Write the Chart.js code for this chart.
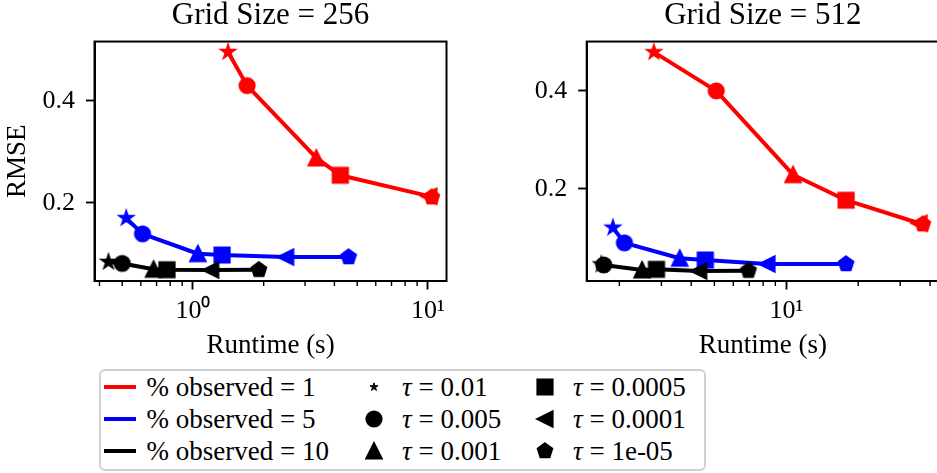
<!DOCTYPE html>
<html>
<head>
<meta charset="utf-8">
<script src="https://cdn.jsdelivr.net/npm/chart.js@4.4.1/dist/chart.umd.min.js"></script>
<style>
  html, body { margin:0; padding:0; background:#fff; }
  body { width:937px; height:473px; overflow:hidden; position:relative; font-family:'Liberation Serif', serif; }
  canvas { position:absolute; top:0; }
  .lg-text { position:absolute; font-size:27px; line-height:27px; color:#000; white-space:nowrap; font-family:'Liberation Serif', serif; }
  .lg-line { position:absolute; width:32px; height:4px; }
  .lg-mark { position:absolute; width:28px; height:28px; }
  #legendBox { position:absolute; left:99px; top:369px; width:607px; height:102px; border:2px solid #d0d0d0; border-radius:6px; box-sizing:border-box; background:#fff; }
</style>
</head>
<body>
<canvas id="chart256" width="470" height="370" style="left:0px;width:470px;height:370px"></canvas>
<canvas id="chart512" width="490" height="370" style="left:470px;width:490px;height:370px"></canvas>
<div id="legendBox"></div>
<div id="legendItems"></div>
<script>
// ---------------- data ----------------
const tauValues = ['0.01', '0.005', '0.001', '0.0005', '0.0001', '1e-05'];
const markerShapes = ['star', 'circle', 'triangle', 'square', 'leftTriangle', 'pentagon'];
const observedPct = [1, 5, 10];
const seriesColors = ['#ff0000', '#0000ff', '#000000'];
const gridSizes = [256, 512];
const xTickValues256 = [1, 10];
const xTickValues512 = [10];
const yTickValues = [0.2, 0.4];

// Grid size 256
const runtime256_obs1  = [1.41, 1.70, 3.35, 4.24, 10.1, 10.4];
const rmse256_obs1     = [0.496, 0.430, 0.288, 0.254, 0.213, 0.211];
const runtime256_obs5  = [0.52, 0.61, 1.05, 1.33, 2.48, 4.60];
const rmse256_obs5     = [0.170, 0.139, 0.100, 0.0975, 0.0935, 0.0935];
const runtime256_obs10 = [0.437, 0.50, 0.68, 0.775, 1.19, 1.91];
const rmse256_obs10    = [0.084, 0.081, 0.0695, 0.0686, 0.068, 0.0685];

// Grid size 512
const runtime512_obs1  = [2.79, 5.09, 10.67, 17.8, 36.0, 37.3];
const rmse512_obs1     = [0.479, 0.400, 0.229, 0.177, 0.130, 0.128];
const runtime512_obs5  = [1.88, 2.10, 3.58, 4.58, 8.30, 17.8];
const rmse512_obs5     = [0.121, 0.090, 0.0586, 0.0551, 0.047, 0.047];
const runtime512_obs10 = [1.68, 1.72, 2.49, 2.86, 4.30, 6.95];
const rmse512_obs10    = [0.046, 0.045, 0.0347, 0.036, 0.0327, 0.0333];

// ---------------- markers ----------------
function markerCanvas(shape, color, opts) {
  opts = opts || {};
  const c = document.createElement('canvas');
  c.width = 28; c.height = 28;
  const g = c.getContext('2d');
  g.translate(14, 14);
  g.fillStyle = color; g.strokeStyle = color;
  g.lineWidth = opts.lw !== undefined ? opts.lw : 2.4;
  g.lineJoin = 'miter';
  const h = 7.4;
  g.beginPath();
  if (shape === 'star') {
    const r = opts.starR || 6.4, ri = r * 0.381966;
    for (let i = 0; i < 10; i++) {
      const a = -Math.PI / 2 + i * Math.PI / 5;
      const rr = i % 2 === 0 ? r : ri;
      const px = rr * Math.cos(a), py = rr * Math.sin(a);
      if (i === 0) g.moveTo(px, py); else g.lineTo(px, py);
    }
  } else if (shape === 'circle') {
    g.arc(0, 0, h, 0, Math.PI * 2);
  } else if (shape === 'triangle') {
    g.moveTo(0, -h); g.lineTo(-h, h); g.lineTo(h, h);
  } else if (shape === 'square') {
    g.rect(-h, -h, 2 * h, 2 * h);
  } else if (shape === 'leftTriangle') {
    g.moveTo(-h, 0); g.lineTo(h, -h); g.lineTo(h, h);
  } else if (shape === 'pentagon') {
    for (let i = 0; i < 5; i++) {
      const a = -Math.PI / 2 + i * 2 * Math.PI / 5;
      const px = h * Math.cos(a), py = h * Math.sin(a);
      if (i === 0) g.moveTo(px, py); else g.lineTo(px, py);
    }
  }
  g.closePath();
  g.fill();
  g.stroke();
  return c;
}

const markerCache = {};
seriesColors.forEach(col => {
  markerCache[col] = markerShapes.map(s => markerCanvas(s, col));
});

// ---------------- plugins ----------------
const framePlugin = {
  id: 'frame',
  afterDatasetsDraw(chart) {
    const a = chart.chartArea, ctx = chart.ctx;
    ctx.save();
    ctx.strokeStyle = '#000';
    ctx.lineWidth = 2;
    ctx.strokeRect(a.left, a.top, a.right - a.left, a.bottom - a.top);
    ctx.restore();
  }
};
const minorTickPlugin = {
  id: 'minorTicks',
  afterDraw(chart) {
    const s = chart.scales.x, ctx = chart.ctx, a = chart.chartArea;
    ctx.save();
    ctx.strokeStyle = '#000';
    ctx.lineWidth = 1.4;
    const e0 = Math.floor(Math.log10(s.min)), e1 = Math.ceil(Math.log10(s.max));
    for (let e = e0; e <= e1; e++) {
      for (let k = 2; k <= 9; k++) {
        const v = k * Math.pow(10, e);
        if (v < s.min || v > s.max) continue;
        const px = s.getPixelForValue(v);
        ctx.beginPath();
        ctx.moveTo(px, a.bottom + 1);
        ctx.lineTo(px, a.bottom + 5);
        ctx.stroke();
      }
    }
    ctx.restore();
  }
};

// ---------------- charts ----------------
Chart.defaults.font.family = "'Liberation Serif', serif";
Chart.defaults.color = '#000';

const supers = {'0': '\u2070', '1': '\u00B9', '2': '\u00B2', '3': '\u00B3'};
function logLabel(v) {
  const e = Math.round(Math.log10(v));
  return '10' + String(e).split('').map(ch => supers[ch] || ch).join('');
}

function buildDatasets(runtimes, rmses) {
  return observedPct.map((p, i) => ({
    label: '% observed = ' + p,
    data: runtimes[i].map((x, j) => ({x: x, y: rmses[i][j]})),
    borderColor: seriesColors[i],
    backgroundColor: seriesColors[i],
    borderWidth: 4,
    borderJoinStyle: 'round',
    tension: 0,
    fill: false,
    pointStyle: markerCache[seriesColors[i]],
    pointRadius: 8,
    order: observedPct.length - i
  }));
}

function makeChart(id, title, datasets, xMin, xMax, yMin, yMax, xTicks, yAxisWidth, padRight, showYTitle) {
  return new Chart(document.getElementById(id), {
    type: 'line',
    data: { datasets: datasets },
    options: {
      responsive: false,
      animation: false,
      devicePixelRatio: 1,
      layout: { padding: { left: 0, right: padRight, top: 0, bottom: 0 } },
      plugins: {
        legend: { display: false },
        tooltip: { enabled: false },
        title: {
          display: true, text: title, fullSize: false, color: '#000',
          font: { family: "'Liberation Serif', serif", size: 31, weight: 'normal', lineHeight: 1.05 },
          padding: { top: 0, bottom: 9 }
        }
      },
      scales: {
        x: {
          type: 'logarithmic', position: 'bottom', min: xMin, max: xMax, bounds: 'data',
          afterBuildTicks: s => { s.ticks = xTicks.map(v => ({ value: v, major: true })); },
          afterFit: s => { s.height = 89; },
          grid: { drawOnChartArea: false, drawTicks: true, tickLength: 8.5, tickWidth: 1.9, tickColor: '#000' },
          border: { display: true, color: '#000', width: 2 },
          ticks: { callback: v => logLabel(v), color: '#000', font: { size: 26 }, padding: 6, maxRotation: 0, autoSkip: false },
          title: { display: true, text: 'Runtime (s)', color: '#000', font: { size: 27 }, padding: { top: 0, bottom: 8 } }
        },
        y: {
          type: 'linear', position: 'left', min: yMin, max: yMax,
          afterBuildTicks: s => { s.ticks = yTickValues.map(v => ({ value: v })); },
          afterFit: s => { s.width = yAxisWidth; },
          grid: { drawOnChartArea: false, drawTicks: true, tickLength: 8.5, tickWidth: 1.9, tickColor: '#000' },
          border: { display: true, color: '#000', width: 2 },
          ticks: { callback: v => v.toFixed(1), color: '#000', font: { size: 26 }, padding: 11, autoSkip: false },
          title: { display: showYTitle, text: 'RMSE', color: '#000', font: { size: 27 }, padding: { top: 1.3, bottom: 0 } }
        }
      }
    },
    plugins: [framePlugin, minorTickPlugin]
  });
}

makeChart('chart256', 'Grid Size = ' + gridSizes[0],
  buildDatasets([runtime256_obs1, runtime256_obs5, runtime256_obs10], [rmse256_obs1, rmse256_obs5, rmse256_obs10]),
  0.381, 12.0, 0.0465, 0.5165, xTickValues256, 94.5, 23.5, true);

makeChart('chart512', 'Grid Size = ' + gridSizes[1],
  buildDatasets([runtime512_obs1, runtime512_obs5, runtime512_obs10], [rmse512_obs1, rmse512_obs5, rmse512_obs10]),
  1.46, 43.6, 0.0122, 0.5006, xTickValues512, 116.7, 21, false);

// ---------------- legend ----------------
(function buildLegend() {
  const host = document.getElementById('legendItems');
  const rowCenters = [386.5, 418.5, 450.5];
  const baselineOffset = 10.5, textTopFromBaseline = 22.6;
  function addText(html, left, row) {
    const d = document.createElement('div');
    d.className = 'lg-text';
    d.style.left = left + 'px';
    d.style.top = (rowCenters[row] + baselineOffset - textTopFromBaseline) + 'px';
    d.innerHTML = html;
    host.appendChild(d);
  }
  observedPct.forEach((p, i) => {
    const l = document.createElement('div');
    l.className = 'lg-line';
    l.style.left = '104px';
    l.style.top = (rowCenters[i] - 2) + 'px';
    l.style.background = seriesColors[i];
    host.appendChild(l);
    addText('% observed = ' + p, 146.5, i);
  });
  markerShapes.forEach((s, k) => {
    const col = k < 3 ? 0 : 1;
    const row = k % 3;
    const cx = col === 0 ? 373.5 : 545;
    const m = s === 'star' ? markerCanvas(s, '#000', { starR: 4.2, lw: 1 }) : markerCanvas(s, '#000');
    m.className = 'lg-mark';
    m.style.left = (cx - 14) + 'px';
    m.style.top = (rowCenters[row] - 14) + 'px';
    m.style.position = 'absolute';
    host.appendChild(m);
    addText('<i>\u03C4</i> = ' + tauValues[k], col === 0 ? 402 : 573, row);
  });
})();
</script>
</body>
</html>
